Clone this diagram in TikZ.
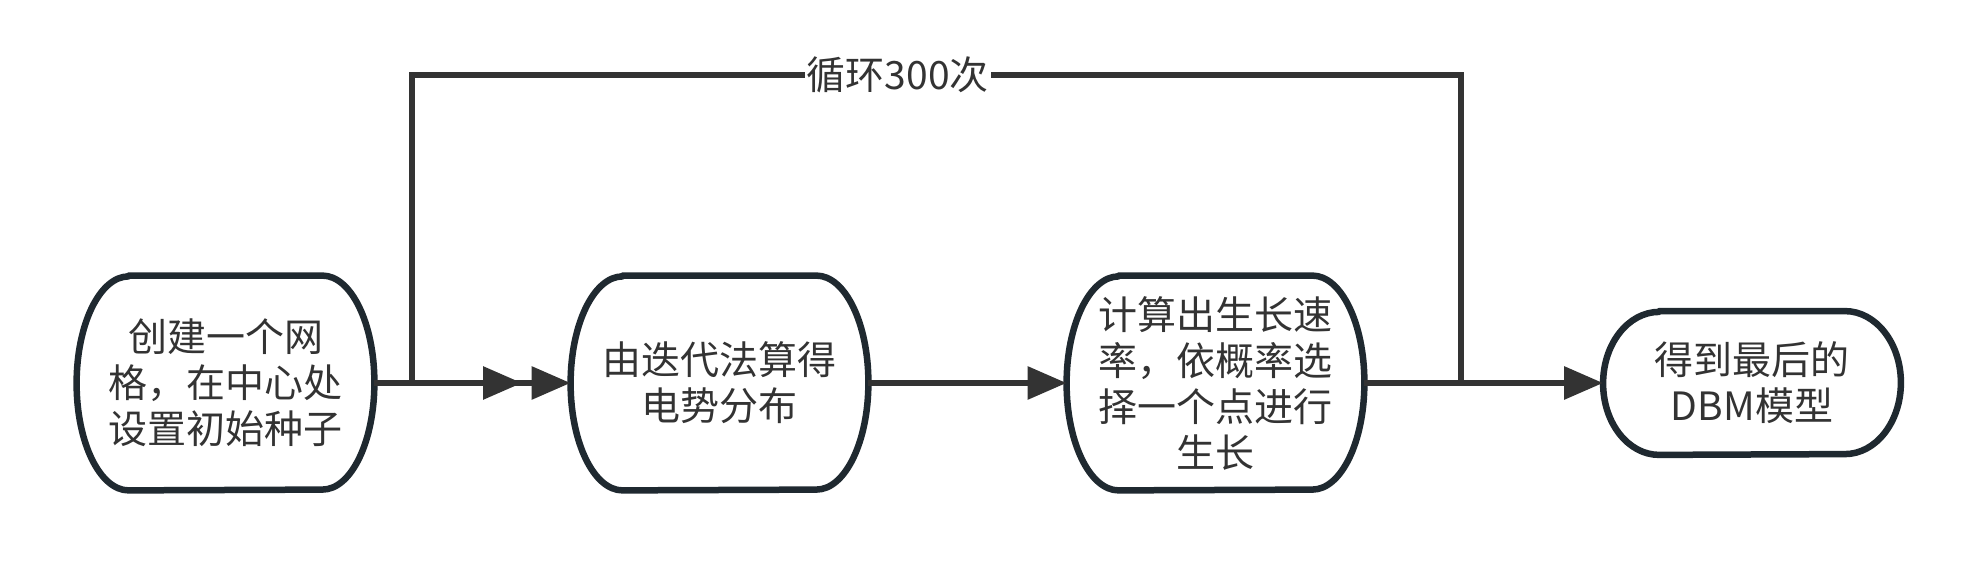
\documentclass[tikz,border=0pt]{standalone}
\usepackage{fontspec}
\setmainfont{Noto Sans CJK SC}
\usetikzlibrary{arrows.meta}
\definecolor{edgec}{HTML}{333333}
\definecolor{boxc}{HTML}{1F2930}
\definecolor{txtc}{HTML}{333333}
\tikzset{
  boxline/.style={draw=boxc, line width=3.25pt, line join=round},
  box/.style={rectangle, draw=none, inner sep=0pt, minimum width=148.5pt, minimum height=107pt, align=center, text=txtc, font=\fontsize{19.5pt}{23pt}\selectfont},
  flow/.style={draw=edgec, line width=3pt, -{Triangle[length=19.5pt,width=16pt]}},
  looplabel/.style={fill=white, text=txtc, inner sep=1pt, font=\fontsize{19.5pt}{23pt}\selectfont},
}
\newcommand\softbox[3]{\draw[boxline] ([xshift=#2]#1.north west) -- ([xshift=-#2]#1.north east) arc[start angle=90,end angle=-90,x radius=#2,y radius=#3] -- ([xshift=#2]#1.south west) arc[start angle=270,end angle=90,x radius=#2,y radius=#3] -- cycle;}
\begin{document}
\begin{tikzpicture}[x=0.5pt,y=0.5pt]
\fill[white] (0,0) rectangle (1977,567);
\useasboundingbox (0,0) rectangle (1977,567);
\node[box] (n1) at (225.5,184) {创建一个网\\格，在中心处\\设置初始种子};
\node[box] (n2) at (719.5,184) {由迭代法算得\\电势分布};
\node[box] (n3) at (1215.5,184) {计算出生长速\\率，依概率选\\择一个点进行\\生长};
\node[box, minimum height=71.5pt] (n4) at (1752,184) {得到最后的\\DBM模型};
\softbox{n1}{26pt}{53.5pt}
\softbox{n2}{26pt}{53.5pt}
\softbox{n3}{26pt}{53.5pt}
\softbox{n4}{28pt}{35.75pt}
\coordinate (loopend) at (522,184);
\draw[flow] (n1.east) -- (n2.west);
\draw[flow] (n2.east) -- (n3.west);
\draw[flow] (n3.east) -- (1461,184) -- (1461,492) -- node[looplabel, pos=0.537] (lbl) {循环300次} (412,492) -- (412,184) -- (loopend);
\draw[flow] (n3.east) -- (n4.west);
\end{tikzpicture}
\end{document}
